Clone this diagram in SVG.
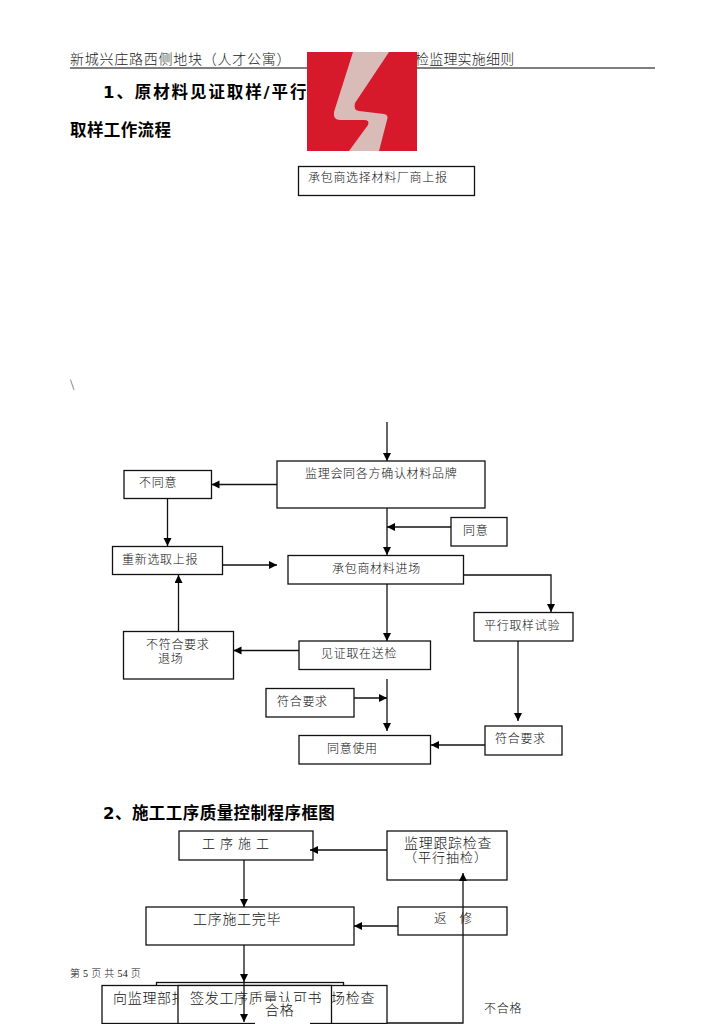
<svg xmlns="http://www.w3.org/2000/svg" width="724" height="1024" viewBox="0 0 724 1024">
<style>
text{font-family:"Noto Sans CJK SC","Liberation Sans",sans-serif;fill:#111;font-weight:300}
.h{font-size:14px;fill:#222}
.t{font-family:"DejaVu Sans","Noto Sans CJK SC",sans-serif;font-size:16.500px;font-weight:700;fill:#000}
.n{font-size:12px;letter-spacing:.7px}
.m{font-size:14px;letter-spacing:.7px}
.b{fill:#fff;stroke:#111;stroke-width:1.3}
#connectors path{fill:none;stroke:#111;stroke-width:1.3;marker-end:url(#a)}
</style>
<defs><marker id="a" markerUnits="userSpaceOnUse" markerWidth="9" markerHeight="9" refX="8" refY="4" orient="auto"><path d="M0 0L8 4L0 8Z" fill="#000"/></marker></defs>
<rect width="724" height="1024" fill="#fff"/>
<g id="header">
<text class="h" x="70" y="64" letter-spacing=".75">新城兴庄路西侧地块（人才公寓）</text>
<text class="h" x="415" y="64" letter-spacing=".2">检监理实施细则</text>
<path d="M70 68H655" stroke="#555" stroke-width="1.5"/>
</g>
<text class="t" x="103" y="98" letter-spacing="1.900">1、原材料见证取样/平行</text>
<text class="t" x="70" y="136" letter-spacing=".4">取样工作流程</text>
<g id="logo">
<rect x="307" y="52" width="110" height="99" fill="#d71a2b"/>
<path d="M353 52H389L355 103Q353 110 359 111L384 114Q389 115 387 120L379 151H349L368 125Q370 120 364 120L340 120Q333 120 334 112Z" fill="#d9bcb8"/>
</g>
<g id="n1"><rect class="b" x="298.500" y="166.500" width="176" height="29"/><text class="n" x="308" y="182" letter-spacing="2">承包商选择材料厂商上报</text></g>
<text x="70" y="388" font-size="11">\</text>
<g id="n2"><rect class="b" x="277" y="461" width="208" height="47"/><text class="n" x="305" y="478">监理会同各方确认材料品牌</text></g>
<g id="n3"><rect class="b" x="124" y="470.500" width="87.500" height="28"/><text class="n" x="139" y="487">不同意</text></g>
<g id="n4"><rect class="b" x="112.500" y="546.500" width="110" height="28"/><text class="n" x="122" y="564">重新选取上报</text></g>
<g id="n5"><rect class="b" x="288" y="555.500" width="175.500" height="28.500"/><text class="n" x="332" y="572.500">承包商材料进场</text></g>
<g id="n6"><rect class="b" x="451" y="517.500" width="56" height="28.500"/><text class="n" x="463" y="535">同意</text></g>
<g id="n7"><rect class="b" x="474" y="612.500" width="99" height="28.500"/><text class="n" x="484" y="630">平行取样试验</text></g>
<g id="n8"><rect class="b" x="123.500" y="631.500" width="110" height="47.500"/><text class="n" x="146" y="649">不符合要求</text><text class="n" x="158" y="663">退场</text></g>
<g id="n9"><rect class="b" x="299" y="641" width="131.500" height="28.500"/><text class="n" x="321" y="658">见证取在送检</text></g>
<g id="n10"><rect class="b" x="266" y="688.500" width="88" height="28.500"/><text class="n" x="277" y="705.500">符合要求</text></g>
<g id="n11"><rect class="b" x="299" y="735.500" width="131.500" height="28.500"/><text class="n" x="327" y="753">同意使用</text></g>
<g id="n12"><rect class="b" x="485" y="726" width="77" height="29"/><text class="n" x="495" y="743">符合要求</text></g>
<text class="t" x="103" y="819" letter-spacing=".45">2、施工工序质量控制程序框图</text>
<g id="n13"><rect class="b" x="179" y="831" width="134" height="29"/><text class="n" x="202" y="848" style="font-size:13px;letter-spacing:5px">工序施工</text></g>
<g id="n14"><rect class="b" x="387" y="831" width="120" height="49"/><text class="m" x="404" y="848">监理跟踪检查</text><text x="404" y="862" style="font-size:13px;letter-spacing:1px">（平行抽检）</text></g>
<g id="n15"><rect class="b" x="146" y="907" width="208" height="38"/><text class="m" x="193" y="924">工序施工完毕</text></g>
<g id="n16"><rect class="b" x="398" y="907" width="109" height="28"/><text class="n" x="434" y="923" xml:space="preserve" style="font-size:12.500px;letter-spacing:2.500px">返  修</text></g>
<text x="70" y="977" font-size="10" letter-spacing=".3" style="font-family:'Liberation Serif','Noto Sans CJK SC',serif">第 5 页 共 54 页</text>
<g id="n17"><rect class="b" x="156.500" y="982.500" width="187" height="6"/><rect class="b" x="102" y="985.500" width="285" height="38"/><text class="m" x="113" y="1003">向监理部报</text><text class="m" x="331" y="1003">场检查</text></g>
<g id="n18"><rect class="b" x="178" y="985.500" width="153.500" height="38"/><text class="m" x="190" y="1003">签发工序质量认可书</text></g>
<g id="n19"><rect x="255" y="1002" width="55" height="22" fill="#fff"/><text class="m" x="265" y="1015">合格</text></g>
<text x="484" y="1013" font-size="12" letter-spacing=".7">不合格</text>
<g id="connectors">
<path d="M387 422V461"/>
<path d="M277 484.500H211.500"/>
<path d="M167.500 498V546"/>
<path d="M222.500 565H277"/>
<path d="M387 508V555"/>
<path d="M451 527H387"/>
<path d="M463 575H551V612"/>
<path d="M387 584V641"/>
<path d="M299 650.500H233.500"/>
<path d="M178.500 631V575"/>
<path d="M518 641V721"/>
<path d="M354 698H387"/>
<path d="M387 679V731"/>
<path d="M485 745H431"/>
<path d="M387 850H310"/>
<path d="M244 860V907"/>
<path d="M398 926H354"/>
<path d="M387 1023H463V873"/>
<path d="M244 945V982"/>
<path d="M244 982V1022"/>
</g>
</svg>
